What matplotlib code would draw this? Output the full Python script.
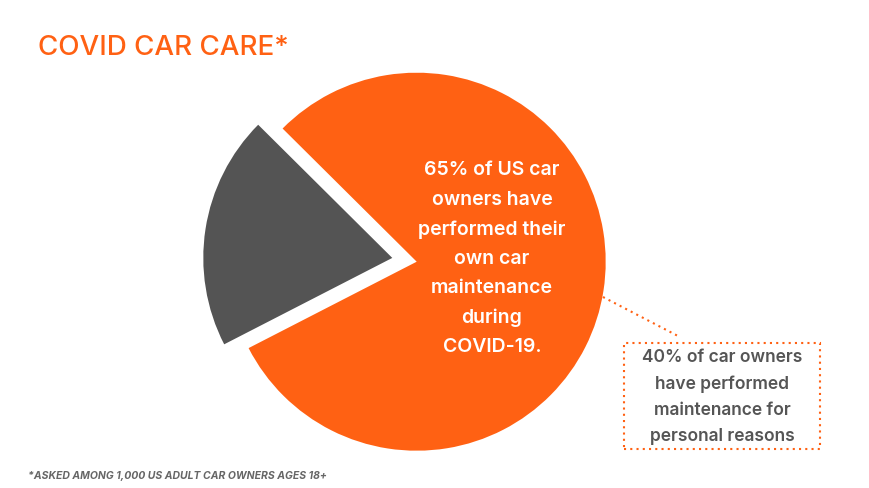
import matplotlib
matplotlib.use("Agg")
import matplotlib.pyplot as plt
from matplotlib.patches import Rectangle

plt.rcParams['font.family'] = ['Inter', 'DejaVu Sans']

# data
labels = ['Performed own maintenance', 'Other']
shares = [80, 20]
colors = ['#FF6113', '#545454']

title = 'COVID CAR CARE*'
inner_text = '65% of US car\nowners have\nperformed their\nown car\nmaintenance\nduring\nCOVID-19.'
box_text = '40% of car owners\nhave performed\nmaintenance for\npersonal reasons'
footnote = '*ASKED AMONG 1,000 US ADULT CAR OWNERS AGES 18+'

W, H = 870, 489
fig = plt.figure(figsize=(8.7, 4.89), dpi=100)
ax = fig.add_axes([0, 0, 1, 1])

cx, cy, r = 416.7, H - 262.7, 189
# explode is in data units here (pixels)
ax.pie(shares, colors=colors, explode=[0, 24.7], startangle=207.2, counterclock=True,
       center=(cx, cy), radius=r, wedgeprops={'linewidth': 0})

ax.set_xlim(0, W)
ax.set_ylim(0, H)
ax.set_aspect('equal')
ax.axis('off')

# title
ax.text(38, H - 48, title, color='#FF6113', fontsize=20, fontweight='medium',
        ha='left', va='center')

# text in the orange slice
ax.text(492, H - 259, inner_text, color='white', fontsize=14, fontweight='semibold',
        ha='center', va='center', linespacing=1.8)

# dotted callout box
ax.add_patch(Rectangle((624, H - 450), 196, 106, fill=False, edgecolor='#FF6113',
                       linestyle=(0, (1, 2)), linewidth=1.5))
ax.plot([603, 678], [H - 298, H - 337], color='#FF6113', linestyle=(0, (1, 2)), linewidth=1.5)
ax.text(722, H - 397, box_text, color='#555555', fontsize=12.5, fontweight='semibold',
        ha='center', va='center', linespacing=1.7)

# footnote
ax.text(28, H - 476, footnote, color='#666666', fontsize=7.5, fontweight='bold',
        fontstyle='italic', ha='left', va='center')

fig.savefig('out.png', dpi=100, facecolor='white')
